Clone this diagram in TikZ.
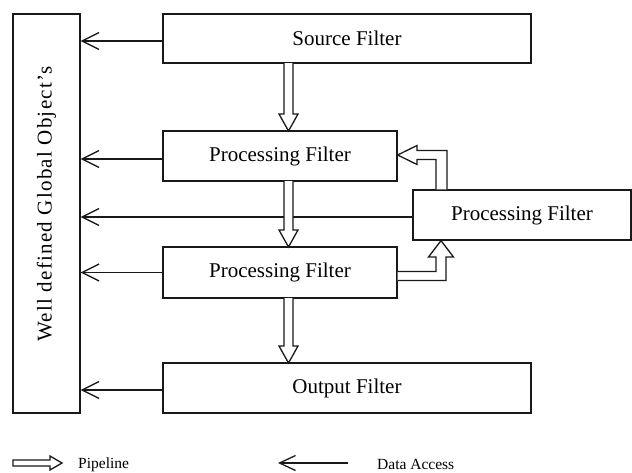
\documentclass[tikz,border=0pt]{standalone}
\usepackage{fontspec}
\setmainfont{Liberation Serif}
\newfontfamily\spacedserif[LetterSpace=6]{Liberation Serif}
\usetikzlibrary{arrows.meta}
\begin{document}
\begin{tikzpicture}[x=1pt,y=-1pt,
  box/.style={draw=black!90, line width=1.3pt, inner sep=0pt, font=\fontsize{21}{25}\selectfont},
  access/.style={draw=black!90, line width=1.3pt,
    -{Straight Barb[length=17pt,width=17pt,line width=1.3pt]}},
  pipe/.style={draw=black!90, line width=1.3pt, fill=white, line join=miter},
  legend/.style={inner sep=0pt, font=\fontsize{15.5}{18}\selectfont}]
\useasboundingbox (0,0) rectangle (632,472);

% shared store of global objects
\node[box, minimum width=67pt, minimum height=399pt] (glob) at (46.5,213.5) {};
\node[rotate=90, inner sep=0pt, font=\fontsize{21}{25}\spacedserif] (globtext) at (46.5,204) {Well defined Global Object’s};

% filter chain
\node[box, minimum width=368pt, minimum height=49pt] (src) at (347,38.5) {Source Filter};
\node[box, minimum width=234pt, minimum height=50pt] (pa) at (280,156) {Processing Filter};
\node[box, minimum width=218pt, minimum height=50pt] (pr) at (522,215) {Processing Filter};
\node[box, minimum width=234pt, minimum height=51pt] (pb) at (280,272.5) {Processing Filter};
\node[box, minimum width=368pt, minimum height=50pt] (out) at (347,388) {Output Filter};

% data access from each filter to the global objects
\draw[access] ([yshift=-2.5pt]src.west) -- ([yshift=-2.5pt]src.west -| glob.east);
\draw[access] ([yshift=-3pt]pa.west) -- ([yshift=-3pt]pa.west -| glob.east);
\draw[access] ([yshift=-2pt]pr.west) -- ([yshift=-2pt]pr.west -| glob.east);
\draw[access] (pb.west) -- (pb.west -| glob.east);
\draw[access] ([yshift=-2pt]out.west) -- ([yshift=-2pt]out.west -| glob.east);

% pipeline arrows (hollow)
\draw[pipe] (284,63) -- (284,114) -- (279,114) -- (288.5,131) -- (298,114) -- (293,114) -- (293,63);
\draw[pipe] (284,181) -- (284,230) -- (279,230) -- (288.5,247) -- (298,230) -- (293,230) -- (293,181);
\draw[pipe] (284,298) -- (284,346) -- (279,346) -- (288.5,363) -- (298,346) -- (293,346) -- (293,298);
% loop through the side filter
\draw[pipe] (pr.north -| 436,0) -- (436,159.5) -- (417,159.5) -- (417,164.5) -- (pa.east |- 0,155)
  -- (417,145.5) -- (417,150.5) -- (447,150.5) -- (pr.north -| 447,0);
\draw[pipe] (pb.east |- 0,280.5) -- (446,280.5) -- (446,257) -- (453.5,257) -- (pr.south -| 441,0)
  -- (428.5,257) -- (436,257) -- (436,271.5) -- (pb.east |- 0,271.5);

% legend
\coordinate (lpa) at (13,463);
\coordinate (lpb) at (62,463);
\draw[pipe] (lpa) -- ++(0,-3) -- (50,460) -- (50,456) -- (lpb) -- (50,470) -- (50,466) -- (13,466) -- cycle;
\node[legend, anchor=base west] (lpipe) at (78,468) {Pipeline};
\coordinate (lda) at (348,463);
\coordinate (ldb) at (278,463);
\draw[access, -{Straight Barb[length=16pt,width=15pt,line width=1.3pt]}] (lda) -- (ldb);
\node[legend, anchor=base west] (laccess) at (377,469.5) {Data Access};
\end{tikzpicture}
\end{document}
